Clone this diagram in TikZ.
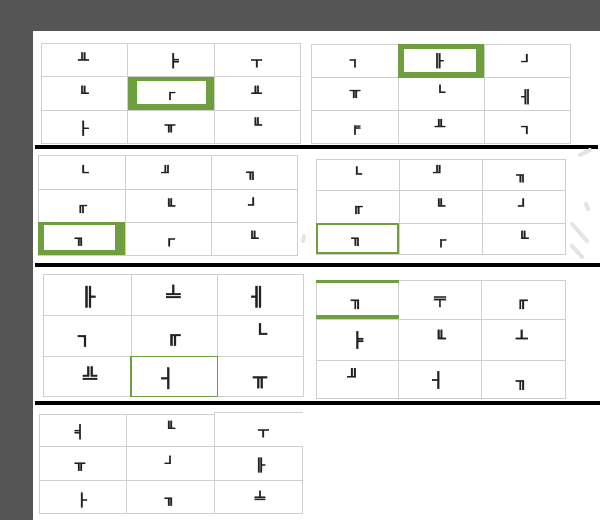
\documentclass[tikz,border=0pt]{standalone}
\usepackage{fontspec}
\newfontfamily\bx{DejaVu Sans Mono}[FakeBold=2.5]
\definecolor{pagegray}{HTML}{555555}
\definecolor{gridgray}{HTML}{CFCFCF}
\definecolor{xlgreen}{HTML}{6E9E3E}
\definecolor{glyphc}{HTML}{222222}
\definecolor{wmark}{HTML}{E4E4E4}
\newcommand\mygrid[8]{%
  \draw[gridline] (#1,#5) rectangle (#4,#8);
  \draw[gridline] (#2,#5) -- (#2,#8) (#3,#5) -- (#3,#8) (#1,#6) -- (#4,#6) (#1,#7) -- (#4,#7);
}
\begin{document}
\begin{tikzpicture}[x=1pt,y=-1pt,
  gridline/.style={draw=gridgray,line width=1pt},
  sepline/.style={draw=black,line width=4pt},
  gl/.style={font=\bx\fontsize{12.5}{12.5}\selectfont,text=glyphc,inner sep=0pt,xscale=1.35},
  glbig/.style={font=\bx\fontsize{18}{18}\selectfont,text=glyphc,inner sep=0pt,xscale=1.25},
  glmid/.style={font=\bx\fontsize{14.5}{14.5}\selectfont,text=glyphc,inner sep=0pt,xscale=1.3},
  thinsel/.style={draw=xlgreen,line width=2pt},
  wm/.style={draw=wmark,line width=4pt,line cap=round}]
\useasboundingbox (0,0) rectangle (600,520);
\fill[pagegray] (0,0) rectangle (600,520);
\fill[white] (33,31) rectangle (600,520);
% separators
\draw[sepline] (35,147) -- (598,147);
\draw[sepline] (35,264.5) -- (600,264.5);
\draw[sepline] (35,402.5) -- (600,402.5);
% watermark strokes
\draw[wm] (580,155) -- (590,150);
\draw[wm] (586,204) -- (588,209);
\draw[wm] (572,224) -- (587,241);
\draw[wm] (572,246) -- (582,257);
\draw[wm] (304,236) -- (303,241);
% grid 1
\mygrid{41.7}{127.7}{214.3}{300}{43.3}{76.7}{110}{143.3}
\fill[xlgreen] (127.7,76.7) rectangle (214.3,110);
\fill[white] (136.7,80.7) rectangle (205.7,104);
\node[gl] (a1) at (83.3,58.3) {╨};
\node[gl] (a2) at (173.3,60.7) {╞};
\node[gl] (a3) at (256.7,63.3) {┬};
\node[gl] (a4) at (83.3,91.7) {╙};
\node[gl] (a5) at (170,96) {┌};
\node[gl] (a6) at (256.7,91.7) {╨};
\node[gl] (a7) at (83.3,128.3) {├};
\node[gl] (a8) at (170,128.3) {╥};
\node[gl] (a9) at (256.7,123.3) {╙};
% grid 2
\mygrid{311.7}{398.3}{484.3}{570.7}{44}{77.7}{110.7}{143.3}
\fill[xlgreen] (398.3,44) rectangle (484.3,77.7);
\fill[white] (404,49) rectangle (475.7,71.7);
\node[gl] (b1) at (355,63.3) {┐};
\node[gl] (b2) at (438.3,60.7) {╟};
\node[gl] (b3) at (526.7,60) {┘};
\node[gl] (b4) at (355,94) {╥};
\node[gl] (b5) at (440,90.7) {└};
\node[gl] (b6) at (526.7,96.7) {╢};
\node[gl] (b7) at (355,130) {╒};
\node[gl] (b8) at (440,125) {╨};
\node[gl] (b9) at (526.7,130) {┐};
% grid 3
\mygrid{38.3}{125}{211.7}{297.7}{155.7}{189}{222.3}{255}
\fill[xlgreen] (38.3,222.3) rectangle (125,255);
\fill[white] (44,225) rectangle (115,250);
\node[gl] (c1) at (83.3,171) {└};
\node[gl] (c2) at (166.7,171) {╜};
\node[gl] (c3) at (251.7,175.7) {╖};
\node[gl] (c4) at (81.7,209) {╓};
\node[gl] (c5) at (170,204.3) {╙};
\node[gl] (c6) at (253.3,203.3) {┘};
\node[gl] (c7) at (80,241.7) {╖};
\node[gl] (c8) at (169.3,242.3) {┌};
\node[gl] (c9) at (253.3,236.7) {╙};
% grid 4
\mygrid{316}{399.3}{482.3}{565.7}{159}{190.7}{223.3}{254}
\draw[thinsel] (317,224.3) rectangle (398.3,253);
\node[gl] (d1) at (356.7,172.3) {└};
\node[gl] (d2) at (438.3,171) {╜};
\node[gl] (d3) at (521.7,178.3) {╖};
\node[gl] (d4) at (357.3,210) {╓};
\node[gl] (d5) at (440,204.3) {╙};
\node[gl] (d6) at (523.3,204.3) {┘};
\node[gl] (d7) at (356.7,241.7) {╖};
\node[gl] (d8) at (441,243.3) {┌};
\node[gl] (d9) at (523.3,236.7) {╙};
% grid 5
\mygrid{43.3}{131}{217.7}{303.3}{274.3}{315.7}{356.7}{396.7}
\draw[xlgreen,line width=1.5pt] (131,356.7) rectangle (217.7,396.7);
\node[glbig] (e1) at (88.3,296.7) {╟};
\node[glbig] (e2) at (173.3,293.3) {╧};
\node[glbig] (e3) at (258.3,296.7) {╢};
\node[glbig] (e4) at (85,341) {┐};
\node[glbig] (e5) at (173.3,340) {╓};
\node[glbig] (e6) at (260,331.7) {└};
\node[glbig] (e7) at (90,375) {╩};
\node[glbig] (e8) at (168.3,378.3) {┤};
\node[glbig] (e9) at (260,382.3) {╥};
% grid 6
\mygrid{316}{398.7}{481.7}{565}{280}{319}{360}{398}
\fill[xlgreen] (316,280) rectangle (398.7,283.3);
\fill[xlgreen] (316,314.5) rectangle (398.7,319);
\node[glmid] (f1) at (356.7,304.3) {╖};
\node[glmid] (f2) at (440,301.7) {╤};
\node[glmid] (f3) at (521.7,304.3) {╓};
\node[glmid] (f4) at (357.3,340) {╞};
\node[glmid] (f5) at (440,336.7) {╙};
\node[glmid] (f6) at (521.7,336.7) {┴};
\node[glmid] (f7) at (353.3,375) {╜};
\node[glmid] (f8) at (438.3,380) {┤};
\node[glmid] (f9) at (521.7,385) {╖};
% grid 7
\draw[gridline] (214.3,412.7) -- (302.7,412.7);
\draw[gridline] (214.3,414) -- (39.3,414) -- (39.3,513.3) -- (302.7,513.3) -- (302.7,446.7);
\draw[gridline] (126.7,414) -- (126.7,513.3) (214.3,412.7) -- (214.3,513.3);
\draw[gridline] (39.3,446.7) -- (302.7,446.7) (39.3,480) -- (302.7,480);
\node[gl] (g1) at (80,431.7) {╡};
\node[gl] (g2) at (170,426.7) {╙};
\node[gl] (g3) at (263.3,433.3) {┬};
\node[gl] (g4) at (80,466.7) {╥};
\node[gl] (g5) at (170,461.7) {┘};
\node[gl] (g6) at (260,465) {╟};
\node[gl] (g7) at (81.7,500) {├};
\node[gl] (g8) at (170,501.7) {╖};
\node[gl] (g9) at (260,496.7) {╧};
\end{tikzpicture}
\end{document}
